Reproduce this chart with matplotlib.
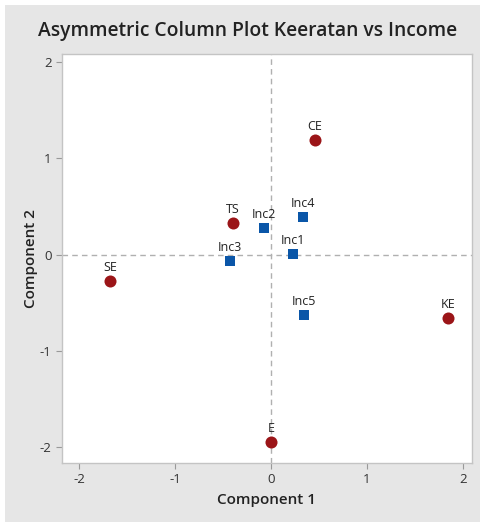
import matplotlib.pyplot as plt
from matplotlib.patches import Rectangle

# row (Keeratan) points
row_labels = ["CE", "TS", "SE", "KE", "E"]
row_x = [0.458, -0.396, -1.677, 1.844, 0.005]
row_y = [1.19, 0.327, -0.275, -0.66, -1.945]

# column (Income) points
col_labels = ["Inc1", "Inc2", "Inc3", "Inc4", "Inc5"]
col_x = [0.229, -0.073, -0.427, 0.333, 0.344]
col_y = [0.005, 0.275, -0.068, 0.39, -0.628]

ticks = [-2, -1, 0, 1, 2]

plt.rcParams['font.family'] = ['Open Sans', 'DejaVu Sans']
plt.rcParams['axes.unicode_minus'] = False

W, H = 485, 526
fig = plt.figure(figsize=(W / 100, H / 100), dpi=100, facecolor="white")
fig.patches.append(Rectangle((5 / W, 4 / H), 475 / W, 517 / H, transform=fig.transFigure,
                             facecolor="#e6e6e6", edgecolor="none", zorder=-10))

ax = fig.add_axes([62 / W, 1 - 463 / H, 410 / W, 409 / H])
ax.set_facecolor("white")
for s in ax.spines.values():
    s.set_color("#c4c4c4")
    s.set_linewidth(1.0)

ax.axhline(0, color="#b0b0b0", ls=(0, (4, 3)), lw=1, zorder=1)
ax.axvline(0, color="#b0b0b0", ls=(0, (4, 3)), lw=1, zorder=1)

ax.scatter(row_x, row_y, s=75, marker="o", color="#9b1518", zorder=3, linewidths=0)
ax.scatter(col_x, col_y, s=45, marker="s", color="#0a56a8", zorder=3, linewidths=0)

for lab, x, y in zip(row_labels + col_labels, row_x + col_x, row_y + col_y):
    ax.annotate(lab, (x, y), xytext=(0, 5), textcoords="offset points",
                ha="center", va="bottom", fontsize=9, color="#222222")

ax.set_xlim(-2.177, 2.094)
ax.set_ylim(-2.166, 2.083)
ax.set_xticks(ticks)
ax.set_yticks(ticks)
ax.tick_params(length=4, color="#999999", labelcolor="#333333", labelsize=9.5)

ax.set_xlabel("Component 1", fontsize=11, fontweight="semibold", color="#222222", labelpad=5)
ax.set_ylabel("Component 2", fontsize=11, fontweight="semibold", color="#222222", labelpad=1)
fig.text(248 / W, 1 - 31 / H, "Asymmetric Column Plot Keeratan vs Income", ha="center", va="center",
         fontsize=13.9, fontweight="semibold", color="#222222")

fig.savefig("out.png", dpi=100, facecolor=fig.get_facecolor())
